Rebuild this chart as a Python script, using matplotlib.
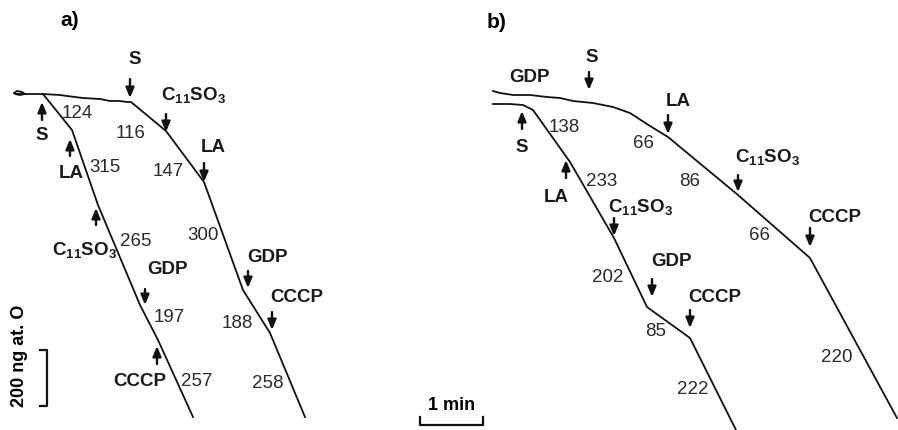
import matplotlib
matplotlib.use("Agg")
import matplotlib.pyplot as plt

plt.rcParams['font.family'] = ['Liberation Sans', 'DejaVu Sans']
plt.rcParams['mathtext.fontset'] = 'custom'
plt.rcParams['mathtext.rm'] = 'Liberation Sans'
plt.rcParams['mathtext.bf'] = 'Liberation Sans:bold'

C11 = r'$\mathbf{C_{11}SO_3}$'

# traces, in chart units (1 unit = 1 px of the original recording)
a1_t = [14, 17, 22, 25, 20, 15, 27, 35, 43, 60, 67, 83, 100, 110, 120, 127, 131, 166, 204, 243, 270, 305]
a1_y = [93, 91, 92, 94, 95, 94, 94, 94, 94, 95, 96, 98, 99, 101, 101, 102, 102, 131, 182, 290, 333, 417]
a2_t = [43, 72, 98, 140, 158, 193]
a2_y = [94, 130, 205, 305, 340, 417]

b1_t = [493, 500, 513, 530, 547, 560, 573, 593, 613, 630, 650, 668, 738, 810, 897]
b1_y = [91, 93, 95, 95, 97, 98, 101, 103, 107, 113, 126, 137, 195, 258, 418]
b2_t = [493, 510, 523, 533, 570, 614, 647, 690, 736]
b2_y = [104, 104, 105, 110, 162, 238, 307, 338, 430]

# additions: label, arrow x, tail y, head y, label x, label y
adds = [
    ('S', 130, 79, 98, 135, 60),
    (C11, 166, 114, 132, 193, 95),
    ('LA', 204, 163, 182, 213, 147),
    ('GDP', 248, 271, 288, 267, 257),
    ('CCCP', 272, 312, 330, 297, 297),
    ('S', 42, 120, 102, 42, 136),
    ('LA', 70, 156, 139, 71, 173),
    (C11, 96, 225, 208, 84, 250),
    ('GDP', 145, 289, 305, 167, 270),
    ('CCCP', 157, 364, 346, 140, 381),
    ('S', 589, 72, 90, 592, 57),
    ('LA', 668, 115, 134, 678, 102),
    (C11, 738, 175, 192, 767, 157),
    ('CCCP', 810, 228, 247, 835, 217),
    ('S', 522, 129, 111, 522, 148),
    ('LA', 566, 178, 160, 556, 197),
    (C11, 614, 218, 236, 640, 207),
    ('GDP', 652, 279, 297, 672, 262),
    ('CCCP', 690, 310, 328, 715, 298),
]
extra_labels = [('GDP', 529, 78)]

# respiration rates and where they sit
rates = [('124', 77, 114), ('116', 131, 133), ('147', 168, 172), ('315', 105, 167),
         ('265', 136, 241), ('300', 203, 235), ('197', 169, 317), ('188', 237, 323),
         ('257', 197, 381), ('258', 268, 384),
         ('138', 564, 127), ('66', 643, 144), ('86', 690, 181), ('233', 602, 182),
         ('66', 759, 235), ('202', 608, 277), ('85', 656, 331), ('222', 693, 389),
         ('220', 837, 357)]

fig = plt.figure(figsize=(8.98, 4.30), dpi=100)
ax = fig.add_axes([0, 0, 1, 1])
ax.set_xlim(0, 898)
ax.set_ylim(430, 0)
ax.axis('off')

for t, y in [(a1_t, a1_y), (a2_t, a2_y), (b1_t, b1_y), (b2_t, b2_y)]:
    ax.plot(t, y, color='#111111', lw=1.3, solid_joinstyle='round')

for lab, x, y0, y1, lx, ly in adds:
    ax.annotate('', xy=(x, y1), xytext=(x, y0),
                arrowprops=dict(arrowstyle='-|>,head_length=0.6,head_width=0.25',
                                color='#111111', lw=1.7, shrinkA=0, shrinkB=0))
    ax.text(lx, ly, lab, ha='center', va='center', fontsize=13.5, fontweight='bold',
            color='#1a1a1a')
for lab, lx, ly in extra_labels:
    ax.text(lx, ly, lab, ha='center', va='center', fontsize=13.5, fontweight='bold',
            color='#1a1a1a')

for lab, lx, ly in rates:
    ax.text(lx, ly, lab, ha='center', va='center', fontsize=13.5, color='#2a2a2a')

ax.text(70, 20, 'a)', ha='center', va='center', fontsize=15, fontweight='bold')
ax.text(497, 22, 'b)', ha='center', va='center', fontsize=15, fontweight='bold')

# scale bars
ax.plot([40, 47, 47, 40], [350, 350, 406, 406], color='#111111', lw=1.6)
ax.text(20, 356, '200 ng at. O', rotation=90, ha='center', va='center',
        fontsize=13, fontweight='bold')
ax.plot([420, 420, 483, 483], [417, 425, 425, 417], color='#111111', lw=1.6)
ax.text(452, 406, '1 min', ha='center', va='center', fontsize=13, fontweight='bold')

fig.savefig('out.png', dpi=100)
